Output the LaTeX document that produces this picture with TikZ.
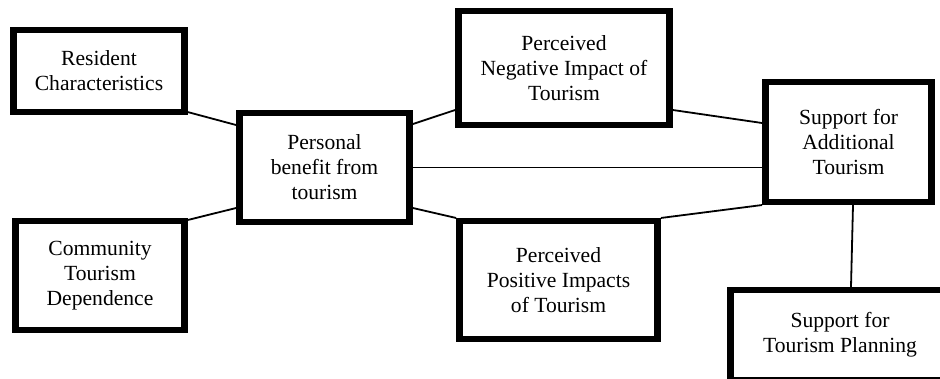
\documentclass[tikz,border=0pt]{standalone}
\usepackage{fontspec}
\setmainfont{Liberation Serif}
\usepackage{tikz}
\usetikzlibrary{positioning, calc}

\begin{document}
\begin{tikzpicture}[
	x=1bp, y=1bp,
	factor/.style={rectangle,draw,line width=6.5bp,align=center,inner sep=0pt,
		font=\fontsize{21.6bp}{25bp}\selectfont},
	link/.style={line width=1.8bp}
]
\useasboundingbox (0,0) rectangle (940,-378);
\clip (0,0) rectangle (940,-378);

% Antecedents
\node[factor, minimum width=172, minimum height=82] (res) at (99,-71) {Resident\\Characteristics};
\node[factor, minimum width=170, minimum height=109] (com) at (100,-275.5) {Community\\Tourism\\Dependence};
\node[factor, minimum width=171, minimum height=109] (pers) at (324.5,-167.5) {Personal\\benefit from\\tourism};

% Perceived impacts
\node[factor, minimum width=212, minimum height=114] (neg) at (564,-68) {Perceived\\Negative Impact of\\Tourism};
\node[factor, minimum width=199, minimum height=118] (pos) at (558.5,-280) {Perceived\\Positive Impacts\\of Tourism};

% Support
\node[factor, minimum width=167, minimum height=120] (add) at (848.5,-142) {Support for\\Additional\\Tourism};
\node[factor, minimum width=220, minimum height=90] (plan) at (840,-335) {Support for\\Tourism Planning};

\draw[link] ([yshift=3bp]res.south east) -- ([yshift=42.5bp]pers.west);
\draw[link] ([yshift=-2bp]com.north east) -- ([yshift=-40.5bp]pers.west);
\draw[link] ([yshift=43.5bp]pers.east) -- ([yshift=-42bp]neg.west);
\draw[link] ([yshift=-40.5bp]pers.east) -- (pos.north west);
\draw[link] (pers.east) -- (pers.east -| add.west);
\draw[link] ([yshift=-42bp]neg.east) -- ([yshift=19bp]add.west);
\draw[link] (pos.north east) -- (add.south west);
\draw[link] ([xshift=4.5bp]add.south) -- ([xshift=11bp]plan.north);

\end{tikzpicture}
\end{document}
